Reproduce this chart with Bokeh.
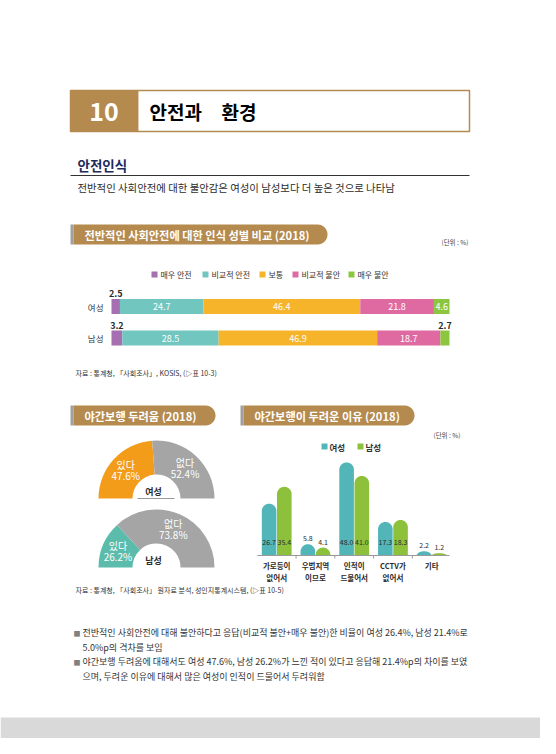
import numpy as np
from bokeh.plotting import figure
from bokeh.models import Range1d
from bokeh.core.properties import value
from bokeh.embed import file_html
from bokeh.resources import INLINE

# ---------------- data ----------------
safety_categories = ["매우 안전", "비교적 안전", "보통", "비교적 불안", "매우 불안"]
safety_groups = ["여성", "남성"]
safety_female = [2.5, 24.7, 46.4, 21.8, 4.6]
safety_male = [3.2, 28.5, 46.9, 18.7, 2.7]

fear_labels = ["있다", "없다"]
fear_female = [47.6, 52.4]
fear_male = [26.2, 73.8]

reason_categories = ["가로등이\n없어서", "우범지역\n이므로", "인적이\n드물어서", "CCTV가\n없어서", "기타"]
reason_series = ["여성", "남성"]
reason_female = [26.7, 5.8, 48.0, 17.3, 2.2]
reason_male = [35.4, 4.1, 41.0, 18.3, 1.2]

# ---------------- style ----------------
KR = "Noto Sans CJK KR"
GOLD = "#b48a4f"
NAVY = "#1f2b5b"
DARK = "#2b2b2b"
safety_colors = ["#a66fb1", "#72c6c0", "#f6b42b", "#df6aa2", "#8cc63f"]
fear_colors_f = ["#f39c1a", "#a5a5a5"]
fear_colors_m = ["#5bbcac", "#a5a5a5"]
reason_colors = ["#52b6b8", "#8dc13c"]

PAGE_H = 754


def Y(py):
    return PAGE_H - py


p = figure(width=540, height=738, x_range=Range1d(8, 548), y_range=Range1d(8, 746),
           output_backend="svg", toolbar_location=None, min_border=0,
           x_axis_type=None, y_axis_type=None)
p.grid.visible = False
p.outline_line_color = None
p.background_fill_color = "white"


def txt(x, y, s, size, color=DARK, bold=False, align="left", baseline="middle", lh=1.2):
    p.text(x=[x], y=[Y(y)], text=[s], text_font=value(KR), text_font_size=f"{size}px",
           text_color=color, text_font_style="bold" if bold else "normal",
           text_align=align, text_baseline=baseline, text_line_height=lh)


def pill(x0, x1, yc, h, label):
    p.quad(left=x0, right=x0 + 3, top=Y(yc - h / 2), bottom=Y(yc + h / 2),
           fill_color="#a0a0a0", line_color=None)
    r = h / 2
    t = np.linspace(-np.pi / 2, np.pi / 2, 40)
    xs = [x0 + 3, x1 - r] + list(x1 - r + r * np.cos(t)) + [x0 + 3]
    ys = [Y(yc + h / 2), Y(yc + h / 2)] + list(Y(yc) + r * np.sin(t)) + [Y(yc - h / 2)]
    p.patch(xs, ys, fill_color=GOLD, line_color=None)
    txt(x0 + 14, yc, label, 11.2, color="white", bold=True)


# ---------------- page header ----------------
p.quad(left=145, right=477, top=Y(98), bottom=Y(139), fill_color="white",
       line_color=GOLD, line_width=1.5)
p.quad(left=78, right=145, top=Y(98), bottom=Y(139), fill_color=GOLD, line_color=GOLD, line_width=1.5)
txt(111.5, 119, "10", 25, color="white", bold=True, align="center")
txt(157, 119, "안전과", 19, color="black", bold=True)
txt(229, 119, "환경", 19, color="black", bold=True)

txt(85, 172, "안전인식", 13.5, color=NAVY, bold=True)
p.segment(x0=[78], y0=[Y(183)], x1=[477], y1=[Y(183)], line_color="#333333", line_width=1)
txt(85, 195, "전반적인 사회안전에 대한 불안감은 여성이 남성보다 더 높은 것으로 나타남", 10.4)

# ---------------- chart 1: stacked bars ----------------
pill(78, 335, 242, 20, "전반적인 사회안전에 대한 인식 성별 비교 (2018)")
txt(476, 249, "(단위 : %)", 6.5, color="#444444", align="right")

legend_x = [159, 210, 267, 300, 356]
for lx, cat, col in zip(legend_x, safety_categories, safety_colors):
    p.rect(x=[lx + 3], y=[Y(282)], width=6, height=6, fill_color=col, line_color=None)
    txt(lx + 9, 282, cat, 8, color="#333333")

bar_x0, bar_x1 = 119, 457
pxu = (bar_x1 - bar_x0) / 100.0
row_y = [314, 345.5]
bar_h = 15
for g, vals, ry in zip(safety_groups, [safety_female, safety_male], row_y):
    vals = np.array(vals)
    rights = bar_x0 + np.cumsum(vals) * pxu
    lefts = rights - vals * pxu
    p.hbar(y=[Y(ry)] * len(vals), left=lefts, right=rights, height=bar_h,
           fill_color=safety_colors, line_color=None)
    txt(111, ry, g, 8.5, color="#333333", align="right")
    for l, r, v in zip(lefts, rights, vals):
        cx = (l + r) / 2
        if (r - l) >= 12:
            txt(cx, ry, f"{v:.1f}", 9, color="white", align="center")
        else:
            txt(cx, ry - bar_h / 2 - 5.5, f"{v:.1f}", 9, color=DARK, bold=True, align="center")

txt(83, 380, "자료 : 통계청, 「사회조사」, KOSIS, (▷표 10-3)", 7, color="#333333")

# ---------------- chart 2: half donuts ----------------
pill(78, 223, 423, 20, "야간보행 두려움 (2018)")
cx_d = 164
r_out, r_in = 58, 24
for g, vals, cols, by in zip(safety_groups, [fear_female, fear_male],
                             [fear_colors_f, fear_colors_m], [506, 575]):
    split = np.pi - vals[0] / 100.0 * np.pi
    starts = [split, 0.0]
    ends = [np.pi, split]
    p.annular_wedge(x=[cx_d] * 2, y=[Y(by)] * 2, inner_radius=r_in, outer_radius=r_out,
                    start_angle=starts, end_angle=ends, fill_color=cols, line_color=None)
    for lab, v, a0, a1 in zip(fear_labels, vals, starts, ends):
        mid = (a0 + a1) / 2
        lx = cx_d + 42 * np.cos(mid)
        ly = by - 42 * np.sin(mid)
        txt(lx, ly - 5.5, lab, 10, color="white", align="center")
        txt(lx, ly + 5.5, f"{v:.1f}%", 10, color="white", align="center")
    txt(cx_d - 3, by - 7, g, 9, color=DARK, bold=True, align="center")
p.segment(x0=[145], y0=[Y(506)], x1=[182], y1=[Y(506)], line_color="#9a9a9a", line_width=1)

txt(83, 597, "자료 : 통계청, 「사회조사」 원자료 분석, 성인지통계시스템, (▷표 10-5)", 7, color="#333333")

# ---------------- chart 3: rounded bars ----------------
pill(248, 422, 423, 20, "야간보행이 두려운 이유 (2018)")
txt(468, 442, "(단위 : %)", 6.5, color="#444444", align="right")
for lx, s, col in zip([332, 368], reason_series, reason_colors):
    p.rect(x=[lx], y=[Y(454)], width=6, height=6, fill_color=col, line_color=None)
    txt(lx + 5, 454, s, 8.5, color="#333333", bold=True)

base = 563
vscale = 1.94
gc0, gstep = 284.2, 38.75
bw = 14.6
boff = 7.6
centers = gc0 + gstep * np.arange(len(reason_categories))
xs_all, ys_all, cols_all, labels = [], [], [], []
for si, (vals, col) in enumerate(zip([reason_female, reason_male], reason_colors)):
    for c, v in zip(centers, vals):
        bx = c + (-boff if si == 0 else boff)
        h = v * vscale
        rx = bw / 2
        cap = min(rx, h)
        t = np.linspace(0, np.pi, 30)
        xs = [bx + rx] + list(bx + rx * np.cos(t)) + [bx - rx]
        ys = [Y(base)] + list(Y(base) + (h - cap) + cap * np.sin(t)) + [Y(base)]
        xs_all.append(xs)
        ys_all.append(ys)
        cols_all.append(col)
        ly = 549 if v > 10 else base - h - 6
        labels.append((bx, ly, f"{v:.1f}"))
p.patches(xs_all, ys_all, fill_color=cols_all, line_color=None)
for bx, ly, s in labels:
    txt(bx, ly, s, 7, color=DARK, align="center")
p.segment(x0=[265], y0=[Y(base)], x1=[457], y1=[Y(base)], line_color="#9a9a9a", line_width=1)
ticks = centers[:-1] + gstep / 2
p.segment(x0=ticks, y0=[Y(base)] * len(ticks), x1=ticks, y1=[Y(base + 3)] * len(ticks),
          line_color="#9a9a9a", line_width=1)
for c, cat in zip(centers, reason_categories):
    txt(c, 567, cat, 7.5, color=DARK, bold=True, align="center", baseline="top", lh=1.15)

# ---------------- bullets ----------------
bullets = [
    ("전반적인 사회안전에 대해 불안하다고 응답(비교적 불안+매우 불안)한 비율이 여성 26.4%, 남성 21.4%로",
     "5.0%p의 격차를 보임"),
    ("야간보행 두려움에 대해서도 여성 47.6%, 남성 26.2%가 느낀 적이 있다고 응답해 21.4%p의 차이를 보였",
     "으며, 두려운 이유에 대해서 많은 여성이 인적이 드물어서 두려워함"),
]
for (l1, l2), by in zip(bullets, [640, 669]):
    txt(81, by, "■", 7, color="#808080")
    txt(90, by, l1, 9, color="#333333")
    txt(90, by + 14.5, l2, 9, color="#333333")

p.quad(left=8, right=548, top=Y(725), bottom=Y(746), fill_color="#d9d9d9", line_color=None)

open("out.html", "w").write(file_html(p, INLINE))
